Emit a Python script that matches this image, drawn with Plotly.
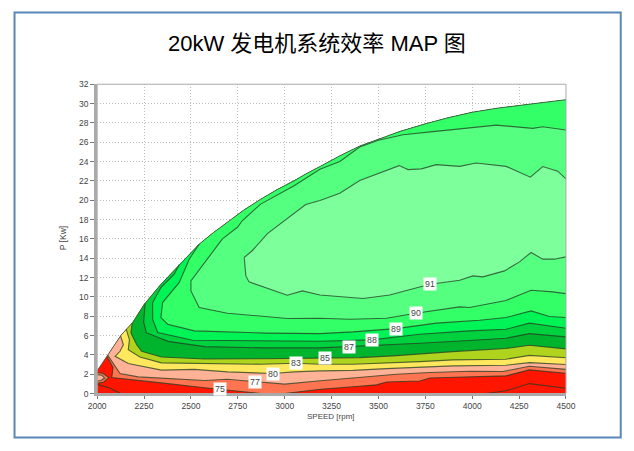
import plotly.graph_objects as go

W, H = 634, 451
TITLE = "20kW 发电机系统效率 MAP 图"
X_TITLE = "SPEED [rpm]"
Y_TITLE = "P [Kw]"
X_TICKS = [2000, 2250, 2500, 2750, 3000, 3250, 3500, 3750, 4000, 4250, 4500]
Y_TICKS = list(range(0, 33, 2))

env_rpm = [2000, 2048, 2128, 2189, 2250, 2340, 2456, 2544, 2620, 2695, 2780, 2872, 2960, 3050, 3120, 3190, 3295, 3400, 3500, 3620, 3750, 3875, 4000, 4125, 4250, 4375, 4500]
env_p = [2.35, 3.7, 6.05, 7.35, 9.2, 11.3, 13.7, 15.45, 16.65, 17.7, 18.95, 20.1, 21.1, 22.0, 22.8, 23.5, 24.6, 25.6, 26.3, 27.15, 27.9, 28.55, 29.1, 29.5, 29.8, 30.1, 30.4]

c75_rpm = [2053, 2085, 2078, 2165, 2343, 2573, 2656, 2872, 3000, 3190, 3365, 3490, 3543, 3720, 3773, 3986, 4180, 4305, 4500]
c75_p = [3.8, 2.7, 1.65, 1.45, 1.1, 0.6, 0.45, 0.0, 0.0, 0.45, 0.7, 0.9, 1.2, 1.3, 1.6, 1.75, 1.83, 2.45, 2.1]
c77_rpm = [2057, 2099, 2122, 2219, 2396, 2573, 2695, 2840, 3000, 3190, 3365, 3490, 3596, 3773, 3986, 4163, 4305, 4500]
c77_p = [3.95, 2.8, 2.06, 1.72, 1.55, 1.35, 1.48, 1.2, 0.97, 1.32, 1.59, 1.76, 2.0, 2.17, 2.3, 2.28, 2.83, 2.5]
c80_rpm = [2125, 2140, 2122, 2096, 2166, 2343, 2518, 2695, 2936, 3050, 3190, 3365, 3543, 3720, 3897, 4180, 4305, 4500]
c80_p = [5.95, 5.05, 4.37, 3.85, 3.1, 2.42, 2.5, 2.24, 2.07, 2.24, 2.34, 2.4, 2.58, 2.69, 2.86, 2.93, 3.2, 3.0]
c83_rpm = [2155, 2172, 2166, 2228, 2343, 2573, 2872, 3058, 3190, 3365, 3543, 3720, 3897, 4180, 4305, 4500]
c83_p = [6.65, 5.57, 4.54, 3.78, 3.17, 3.1, 3.03, 3.14, 3.03, 3.03, 3.14, 3.3, 3.48, 3.55, 3.95, 3.7]
c85_rpm = [2187, 2180, 2211, 2237, 2343, 2573, 2900, 3215, 3400, 3578, 3755, 3897, 4180, 4305, 4500]
c85_p = [7.3, 6.26, 5.05, 4.37, 3.78, 3.58, 3.6, 3.66, 3.72, 3.9, 4.17, 4.34, 4.66, 5.0, 4.62]
c87_rpm = [2256, 2248, 2262, 2378, 2573, 2900, 3191, 3365, 3543, 3720, 3986, 4180, 4305, 4500]
c87_p = [9.3, 7.4, 6.3, 5.4, 4.85, 4.72, 4.72, 4.86, 5.0, 5.2, 5.48, 5.72, 6.2, 5.86]
c88_rpm = [2438, 2411, 2340, 2296, 2296, 2323, 2509, 2900, 3188, 3463, 3720, 3986, 4180, 4305, 4500]
c88_p = [13.35, 12.34, 10.97, 9.41, 7.69, 6.31, 5.52, 5.45, 5.41, 5.55, 6.14, 6.48, 6.65, 7.28, 6.76]
c89_rpm = [2544, 2491, 2438, 2349, 2340, 2376, 2518, 2900, 3188, 3365, 3594, 3808, 4039, 4180, 4314, 4411, 4500]
c89_p = [15.45, 13.9, 11.5, 9.41, 7.86, 7.17, 6.48, 6.25, 6.2, 6.38, 6.72, 7.28, 7.59, 7.86, 8.55, 7.97, 7.86]
c90_low_rpm = [2668, 2571, 2500, 2500, 2544, 2695, 3014, 3188, 3348, 3543, 3699, 3933, 3986, 4180, 4314, 4429, 4500]
c90_low_p = [16.0, 13.55, 11.66, 10.62, 8.9, 8.31, 7.76, 7.79, 7.69, 7.79, 8.31, 8.97, 8.9, 9.62, 10.69, 10.52, 10.34]
c90_up_rpm = [2668, 2748, 2775, 2872, 3050, 3188, 3294, 3400, 3500, 3631, 3791, 3933, 4128, 4323, 4376, 4500]
c90_up_p = [16.0, 17.2, 17.9, 19.6, 21.5, 23.2, 24.0, 25.5, 26.2, 26.78, 27.1, 27.36, 27.77, 27.43, 27.6, 27.26]
c91_low_rpm = [2784, 2793, 2810, 3014, 3094, 3188, 3418, 3560, 3720, 3777, 3933, 4004, 4057, 4172, 4252, 4314, 4376, 4438, 4500]
c91_low_p = [14.07, 12.17, 11.55, 10.17, 10.62, 10.2, 9.83, 10.2, 11.03, 11.31, 11.72, 12.17, 12.07, 12.69, 13.62, 14.59, 13.9, 13.9, 14.14]
c91_up_rpm = [2784, 2828, 2908, 3032, 3112, 3188, 3294, 3400, 3507, 3610, 3658, 3729, 3808, 3933, 4021, 4181, 4310, 4376, 4456, 4500]
c91_up_p = [14.07, 14.8, 16.54, 18.4, 19.56, 19.97, 20.73, 22.03, 22.8, 23.58, 23.17, 23.24, 23.68, 23.5, 23.85, 23.5, 22.38, 23.48, 23.0, 22.2]

inner_left_rpm = [2000, 2070, 2125]
inner_left_p = [0.95, 0.55, 0.0]
inner_right_rpm = [4074, 4180, 4305, 4500]
inner_right_p = [0.0, 0.28, 1.03, 0.55]
island_out_rpm = [2000, 2030, 2062, 2035, 2000]
island_out_p = [2.15, 2.1, 1.65, 1.2, 1.05]
island_in_rpm = [2000, 2025, 2040, 2020, 2000]
island_in_p = [1.95, 1.9, 1.6, 1.35, 1.3]

label_text = ["75", "77", "80", "83", "85", "87", "88", "89", "90", "91"]
label_rpm = [2656, 2840, 2936, 3058, 3215, 3345, 3463, 3594, 3699, 3777]
label_p = [0.45, 1.2, 2.07, 3.14, 3.66, 4.8, 5.5, 6.72, 8.31, 11.31]

RED, ORANGE, PEACH, YELLOW, OLIVE = "#ff1500", "#ff7552", "#ffb296", "#ffe75e", "#b0d41e"
G85, G87, G88, G89, G90, G91 = "#00b52d", "#00d23f", "#00f455", "#33ff66", "#55ff80", "#7dff9c"
LINE = "rgba(35,60,35,0.75)"
FONT = "Liberation Sans, Noto Sans CJK SC, sans-serif"


def fx(px):
    return ((px - 7.45) / 0.9745) / W


def fy(py):
    return 1 - ((py - 4.6) / 0.98) / H


fig = go.Figure()


def fill(xs, ys, color):
    fig.add_trace(go.Scatter(x=xs, y=ys, mode="lines", fill="toself", fillcolor=color,
                             line=dict(width=0, color=color), hoverinfo="skip", showlegend=False))


def line(xs, ys, color=LINE, width=1.1):
    fig.add_trace(go.Scatter(x=xs, y=ys, mode="lines", line=dict(width=width, color=color),
                             hoverinfo="skip", showlegend=False))


def region(xs, ys, color):
    tail = [(a, b) for a, b in zip(env_rpm, env_p) if a > xs[0]][::-1]
    fill(xs + [a for a, _ in tail], ys + [b for _, b in tail], color)


fill(env_rpm + [4500, 2000], env_p + [0, 0], RED)
fill(island_out_rpm, island_out_p, ORANGE)
fill(island_in_rpm, island_in_p, PEACH)
contours = [
    (c75_rpm, c75_p, ORANGE), (c77_rpm, c77_p, PEACH), (c80_rpm, c80_p, YELLOW),
    (c83_rpm, c83_p, OLIVE), (c85_rpm, c85_p, G85), (c87_rpm, c87_p, G87),
    (c88_rpm, c88_p, G88), (c89_rpm, c89_p, G89),
]
for xs, ys, col in contours:
    region(xs, ys, col)
fill(c90_low_rpm + c90_up_rpm[::-1], c90_low_p + c90_up_p[::-1], G90)
fill(c91_low_rpm + c91_up_rpm[::-1], c91_low_p + c91_up_p[::-1], G91)

for xs, ys, _ in contours:
    line(xs, ys)
for xs, ys in [(c90_low_rpm, c90_low_p), (c90_up_rpm, c90_up_p), (c91_low_rpm, c91_low_p),
               (c91_up_rpm, c91_up_p), (inner_left_rpm, inner_left_p), (inner_right_rpm, inner_right_p),
               (island_out_rpm, island_out_p), (island_in_rpm, island_in_p)]:
    line(xs, ys)
line(env_rpm, env_p, "rgba(60,70,60,0.8)", 1)

for t, a, b in zip(label_text, label_rpm, label_p):
    fig.add_annotation(x=a, y=b, text=t, showarrow=False, bgcolor="white", borderpad=1,
                       font=dict(family=FONT, size=8.8, color="#444"))

for txt, px, py, size, col, ang in [(TITLE, 317, 43, 22, "black", 0), (X_TITLE, 331, 417, 8, "#444", 0),
                                    (Y_TITLE, 62, 238, 8.5, "#444", -90)]:
    fig.add_annotation(xref="paper", yref="paper", x=fx(px), y=fy(py), text=txt, showarrow=False,
                       xanchor="center", yanchor="middle", textangle=ang, borderpad=0, height=9 if size == 8 else None,
                       font=dict(family=FONT, size=size, color=col))

fig.add_shape(type="rect", xref="paper", yref="paper", x0=fx(13), x1=fx(622), y0=fy(438), y1=fy(12),
              line=dict(color="#5b86b8", width=2))
fig.add_shape(type="rect", xref="x domain", yref="y domain", x0=0, x1=1, y0=0, y1=1,
              line=dict(color="#aaaaaa", width=1))

axis = dict(showgrid=True, gridcolor="#bdbdbd", griddash="1px,2px", gridwidth=1, zeroline=False,
            ticks="outside", ticklen=4, tickcolor="#777", linecolor="#aaaaaa",
            showline=True, tickfont=dict(family=FONT, size=8.5, color="#444"))
fig.update_layout(
    width=W, height=H, margin=dict(l=0, r=0, t=0, b=0), paper_bgcolor="white", plot_bgcolor="white",
    showlegend=False, autosize=False,
    xaxis=dict(axis, domain=[fx(96), fx(567)], range=[2000, 4500], tickvals=X_TICKS, linewidth=2, ticklen=3),
    yaxis=dict(axis, domain=[fy(394), fy(84)], range=[0, 32], tickvals=Y_TICKS, linewidth=3),
)
fig.write_html("out.html", config={"displayModeBar": False, "responsive": False},
               default_width="634px", default_height="451px",
               post_script="document.documentElement.style.margin='0';document.body.style.margin='0';document.body.style.overflow='hidden';Plotly.relayout('{plot_id}',{width:634,height:451});")
